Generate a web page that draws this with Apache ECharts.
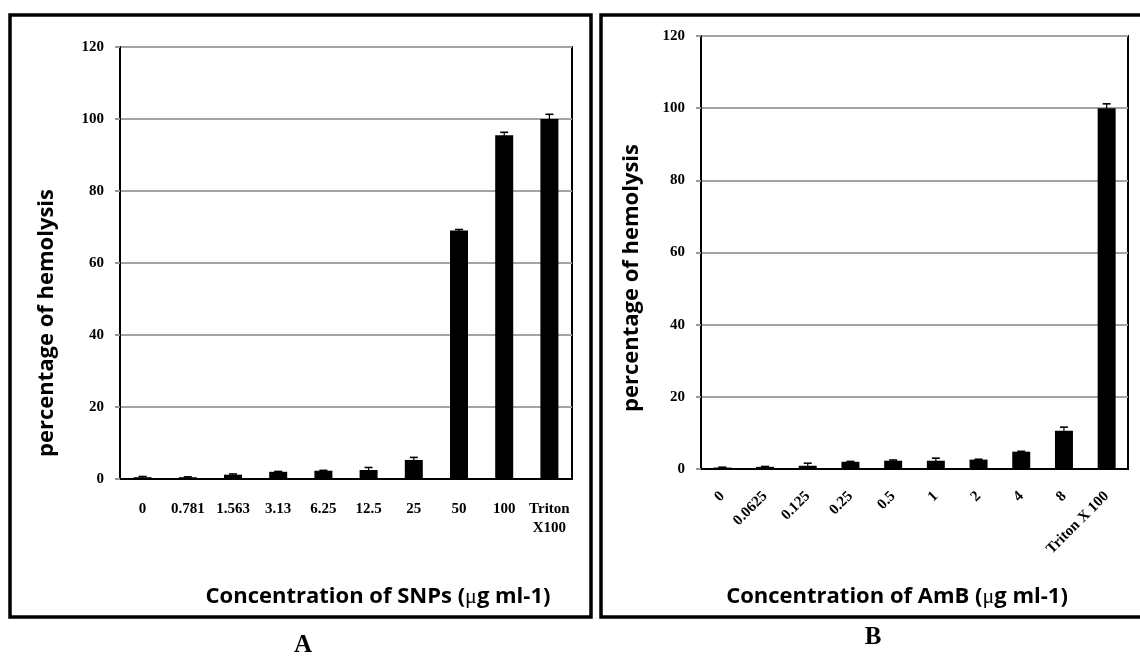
<!DOCTYPE html>
<html>
<head>
<meta charset="utf-8">
<title>Hemolysis</title>
<script src="https://cdn.jsdelivr.net/npm/echarts@6/dist/echarts.min.js"></script>
<style>
  html, body { margin: 0; padding: 0; background: #fff; }
  #chart { width: 1140px; height: 657px; }
</style>
</head>
<body>
<div id="chart"></div>
<script>
// Panel A: silver nanoparticles
const catsA = ['0', '0.781', '1.563', '3.13', '6.25', '12.5', '25', '50', '100', 'Triton\nX100'];
const valsA = [0.5, 0.5, 1.2, 2.0, 2.3, 2.5, 5.3, 69.0, 95.5, 100.0];
const errA  = [0.2, 0.1, 0.2, 0.1, 0.1, 0.7, 0.7, 0.3, 0.8, 1.3];

// Panel B: amphotericin B
const catsB = ['0', '0.0625', '0.125', '0.25', '0.5', '1', '2', '4', '8', 'Triton X 100'];
const valsB = [0.4, 0.6, 0.9, 2.0, 2.3, 2.3, 2.6, 4.8, 10.6, 100.0];
const errB  = [0.1, 0.1, 0.7, 0.1, 0.2, 0.7, 0.1, 0.1, 1.0, 1.2];

// Shared y scale
const yMin = 0, yMax = 120, yStep = 20;

const serif = '"Liberation Serif", "DejaVu Serif", serif';
const sans = '"Open Sans", Lato, sans-serif';

function errData(vals, errs) {
  return vals.map((v, i) => [i, v - errs[i], v + errs[i]]);
}

function errRender(params, api) {
  const i = api.value(0);
  const top = api.coord([i, api.value(2)]);
  const bot = api.coord([i, api.value(1)]);
  const half = 4;
  return {
    type: 'group',
    children: [
      { type: 'line', shape: { x1: top[0], y1: top[1], x2: bot[0], y2: bot[1] },
        style: { stroke: '#000', lineWidth: 1.2 } },
      { type: 'line', shape: { x1: top[0] - half, y1: top[1], x2: top[0] + half, y2: top[1] },
        style: { stroke: '#000', lineWidth: 1.6 } }
    ]
  };
}

function yAxisCfg(gridIndex) {
  return {
    type: 'value', gridIndex, min: yMin, max: yMax, interval: yStep,
    axisLine: { show: true, lineStyle: { color: '#000', width: 2 } },
    axisTick: { show: true, length: 5, lineStyle: { color: '#999', width: 2 } },
    axisLabel: { margin: 16, color: '#000', fontFamily: serif, fontWeight: 'bold', fontSize: 15 },
    splitLine: { show: true, lineStyle: { color: '#a3a3a3', width: 2 } }
  };
}

function titleText(x, y, text, vertical) {
  return {
    type: 'text', x, y, rotation: vertical ? Math.PI / 2 : 0,
    style: {
      text, fontFamily: sans, fontWeight: 'bold', fontSize: 22, fill: '#000',
      align: 'center', verticalAlign: 'middle',
      rich: { mu: { fontFamily: serif, fontSize: 22, fill: '#000' } }
    }
  };
}

const option = {
  backgroundColor: '#fff',
  animation: false,
  grid: [
    { left: 120, top: 47, width: 452, height: 432, show: true, borderColor: '#000', borderWidth: 2 },
    { left: 701, top: 36, width: 427, height: 433, show: true, borderColor: '#000', borderWidth: 2 }
  ],
  xAxis: [
    {
      type: 'category', gridIndex: 0, data: catsA,
      axisLine: { lineStyle: { color: '#000', width: 2 } },
      axisTick: { show: false },
      axisLabel: { interval: 0, margin: 21, color: '#000', fontFamily: serif, fontWeight: 'bold',
                   fontSize: 15, lineHeight: 19 }
    },
    {
      type: 'category', gridIndex: 1, data: catsB,
      axisLine: { lineStyle: { color: '#000', width: 2 } },
      axisTick: { show: false },
      axisLabel: { interval: 0, rotate: 45, margin: 25, color: '#000', fontFamily: serif,
                   fontWeight: 'bold', fontSize: 15 }
    }
  ],
  yAxis: [yAxisCfg(0), yAxisCfg(1)],
  series: [
    { type: 'bar', xAxisIndex: 0, yAxisIndex: 0, data: valsA, barWidth: 18,
      itemStyle: { color: '#000' } },
    { type: 'custom', xAxisIndex: 0, yAxisIndex: 0, renderItem: errRender,
      data: errData(valsA, errA), encode: { x: 0, y: [1, 2] }, z: 5 },
    { type: 'bar', xAxisIndex: 1, yAxisIndex: 1, data: valsB, barWidth: 18,
      itemStyle: { color: '#000' } },
    { type: 'custom', xAxisIndex: 1, yAxisIndex: 1, renderItem: errRender,
      data: errData(valsB, errB), encode: { x: 0, y: [1, 2] }, z: 5 }
  ],
  graphic: [
    // panel frames
    { type: 'rect', shape: { x: 10, y: 15, width: 581, height: 602 },
      style: { fill: 'none', stroke: '#000', lineWidth: 3.5 }, silent: true },
    { type: 'rect', shape: { x: 601, y: 15, width: 560, height: 602 },
      style: { fill: 'none', stroke: '#000', lineWidth: 3.5 }, silent: true },
    // axis titles
    titleText(47, 323, 'percentage of hemolysis', true),
    titleText(632, 278, 'percentage of hemolysis', true),
    titleText(378, 597, 'Concentration of SNPs ({mu|μ}g ml-1)', false),
    titleText(897, 597, 'Concentration of AmB ({mu|μ}g ml-1)', false),
    // panel letters
    { type: 'text', x: 303, y: 646,
      style: { text: 'A', fontFamily: serif, fontWeight: 'bold', fontSize: 25, fill: '#000',
               align: 'center', verticalAlign: 'middle' } },
    { type: 'text', x: 873, y: 638,
      style: { text: 'B', fontFamily: serif, fontWeight: 'bold', fontSize: 25, fill: '#000',
               align: 'center', verticalAlign: 'middle' } }
  ]
};

const chart = echarts.init(document.getElementById('chart'), null, { renderer: 'canvas' });
chart.setOption(option);
</script>
</body>
</html>
